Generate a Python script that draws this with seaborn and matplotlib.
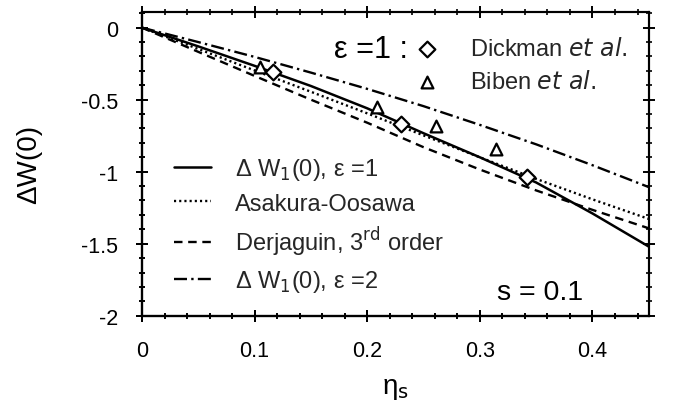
import matplotlib
matplotlib.use("Agg")
import matplotlib.pyplot as plt
import seaborn as sns
import numpy as np
import pandas as pd
from matplotlib.ticker import FixedLocator, MultipleLocator, NullFormatter

# ---------------- data ----------------
eta = [0.0, 0.05, 0.10, 0.15, 0.20, 0.25, 0.30, 0.35, 0.40, 0.45]
dw1_eps1 = [0.0, -0.130, -0.265, -0.405, -0.560, -0.733, -0.900, -1.075, -1.290, -1.520]
asakura_oosawa = [0.0, -0.148, -0.297, -0.445, -0.595, -0.748, -0.900, -1.050, -1.192, -1.328]
derjaguin_3rd = [0.0, -0.168, -0.335, -0.500, -0.660, -0.830, -0.985, -1.130, -1.265, -1.393]
dw1_eps2 = [0.0, -0.100, -0.203, -0.312, -0.425, -0.545, -0.675, -0.810, -0.955, -1.107]

dickman_eta = [0.116, 0.2296, 0.342]
dickman_dw = [-0.308, -0.667, -1.038]
biben_eta = [0.105, 0.209, 0.2615, 0.314]
biben_dw = [-0.273, -0.551, -0.684, -0.840]

x_ticks = [0, 0.1, 0.2, 0.3, 0.4]
x_ticklabels = ["0", "0.1", "0.2", "0.3", "0.4"]
y_ticks = [0, -0.5, -1, -1.5, -2]
y_ticklabels = ["0", "-0.5", "-1", "-1.5", "-2"]

line_labels = [r"Δ W$_{\rm 1}$(0), ε =1", "Asakura-Oosawa",
               r"Derjaguin, 3$^{\rm rd}$ order", r"Δ W$_{\rm 1}$(0), ε =2"]
marker_labels = [r"Dickman $\it{et\ al.}$", r"Biben $\it{et\ al.}$"]

FONT = "Liberation Sans"

# ---------------- style ----------------
sns.set_theme(style="ticks")

fig = plt.figure(figsize=(6.73, 4.14), dpi=100)
ax = fig.add_axes([0.211, 0.235, 0.753, 0.734])

df = pd.DataFrame({"eta": eta, "l1": dw1_eps1, "ao": asakura_oosawa,
                   "dj": derjaguin_3rd, "l2": dw1_eps2})

styles = [
    ("l1", "-", 1.8),
    ("ao", (0, (0.9, 1.3)), 1.7),
    ("dj", (0, (3.6, 2.4)), 1.7),
    ("l2", (0, (5.5, 1.8, 1.0, 1.8)), 1.7),
]
for (col, ls, lw), lab in zip(styles, line_labels):
    sns.lineplot(data=df, x="eta", y=col, ax=ax, color="black",
                 linestyle=ls, linewidth=lw, label=lab)

sns.scatterplot(x=dickman_eta, y=dickman_dw, ax=ax, marker="D", s=64,
                facecolor="white", edgecolor="black", linewidth=1.6,
                label=marker_labels[0], zorder=5)
sns.scatterplot(x=biben_eta, y=biben_dw, ax=ax, marker="^", s=72,
                facecolor="white", edgecolor="black", linewidth=1.6,
                label=marker_labels[1], zorder=5)

XLIM = (0, 0.45)
YLIM = (-2, 0.11)
ax.set_xlim(*XLIM)
ax.set_ylim(*YLIM)

# twin axes whose tick2 lines are moved onto the bottom / left frame
axb = ax.twiny()
axl = ax.twinx()
axb.set_xlim(*XLIM)
axl.set_ylim(*YLIM)
axb.xaxis.set_ticks_position("top")
axb.spines["top"].set_position(("axes", 0.0))
axl.yaxis.set_ticks_position("right")
axl.spines["right"].set_position(("axes", 0.0))

for a in (ax, axb):
    a.xaxis.set_major_locator(FixedLocator(x_ticks))
    a.xaxis.set_minor_locator(MultipleLocator(0.02))
for a in (ax, axl):
    a.yaxis.set_major_locator(FixedLocator(y_ticks))
    a.yaxis.set_minor_locator(MultipleLocator(0.1))
ax.set_xticklabels(x_ticklabels)
ax.set_yticklabels(y_ticklabels)
axb.xaxis.set_major_formatter(NullFormatter())
axl.yaxis.set_major_formatter(NullFormatter())

for a in (ax, axb, axl):
    a.tick_params(which="both", direction="inout", color="black")
    a.tick_params(which="major", length=8.6, width=1.4)
    a.tick_params(which="minor", length=4.3, width=1.2)
    for sp in a.spines.values():
        sp.set_linewidth(1.5)
        sp.set_color("black")
ax.tick_params(which="both", bottom=True, left=True, top=True, right=True,
               labeltop=False, labelright=False)
ax.tick_params(which="major", pad=13, labelsize=15.5, labelcolor="black",
               labelfontfamily=FONT)
axb.tick_params(which="both", labeltop=False, labelbottom=False)
axl.tick_params(which="both", labelright=False, labelleft=False)

ax.set_xlabel(r"η$_{\rm s}$", fontsize=20, labelpad=10, color="black",
              fontfamily=FONT)
ax.set_ylabel("ΔW(0)", fontsize=20, labelpad=28, color="black",
              fontfamily=FONT)

handles, labels = ax.get_legend_handles_labels()
line_h = handles[:4]
mark_h = handles[4:]

prop = {"family": FONT, "size": 17}
leg1 = ax.legend(line_h, line_labels, loc="center left",
                 bbox_to_anchor=(0.063, 0.297), frameon=False, prop=prop,
                 handlelength=1.57, handletextpad=1.0, labelspacing=0.43,
                 borderpad=0, borderaxespad=0)
ax.add_artist(leg1)
leg2 = ax.legend(mark_h, marker_labels, loc="center left",
                 bbox_to_anchor=(0.540, 0.825), frameon=False, prop=prop,
                 handlelength=1.0, handletextpad=1.3, labelspacing=0.4,
                 borderpad=0, borderaxespad=0, scatterpoints=1)

ax.text(0.525, 0.852, "ε =1 :", transform=ax.transAxes, ha="right",
        va="baseline", fontsize=22, color="black", fontfamily=FONT)
ax.text(0.700, 0.055, "s = 0.1", transform=ax.transAxes, ha="left",
        va="baseline", fontsize=20.5, color="black", fontfamily=FONT)

fig.savefig("out.png", dpi=100)
